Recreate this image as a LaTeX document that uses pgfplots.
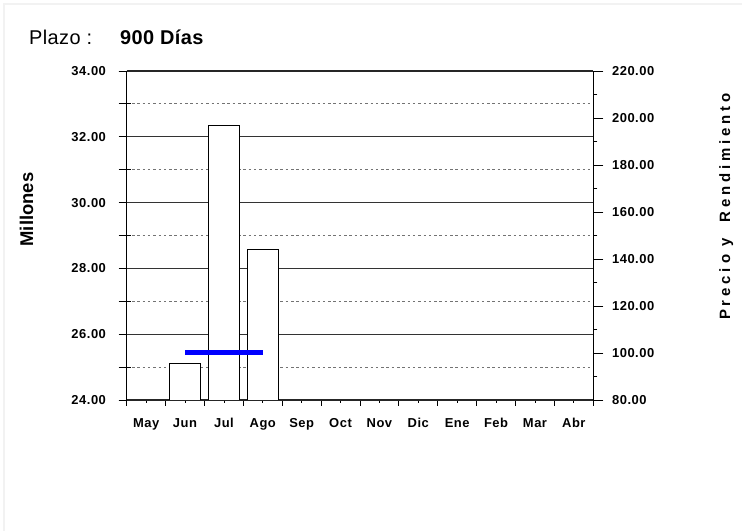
\documentclass[border=0pt]{standalone}
\usepackage{fontspec}
\setmainfont{Liberation Sans}
\usepackage{pgfplots}
\pgfplotsset{compat=1.18}
\begin{document}
\begin{tikzpicture}
\path (0bp,0bp) rectangle (744bp,531bp);
\draw[black!5, line width=1.5bp] (4bp,0bp) -- (4bp,527bp) -- (742bp,527bp);
\begin{axis}[
  at={(126.7bp,131bp)}, anchor=south west,
  scale only axis, width=466.6bp, height=329bp,
  xmin=-0.5, xmax=11.5, ymin=24, ymax=34,
  axis line style={black, line width=0.8bp},
  xtick={0,...,11},
  xticklabels={May,Jun,Jul,Ago,Sep,Oct,Nov,Dic,Ene,Feb,Mar,Abr},
  minor xtick={-0.5,0.5,...,11.5},
  ytick={24,26,...,34},
  yticklabels={24.00,26.00,28.00,30.00,32.00,34.00},
  minor ytick={25,27,...,33},
  xtick pos=bottom, ytick pos=left,
  tick align=outside,
  xtick style={black, line width=0.8bp, /pgfplots/major tick length=3bp, /pgfplots/minor tick length=6bp},
  ytick style={black, line width=0.8bp, /pgfplots/major tick length=8bp, /pgfplots/minor tick length=12bp},
  minor y tick style={xshift=4bp},
  tick label style={font=\fontsize{13}{15}\selectfont\bfseries\addfontfeature{LetterSpace=4}},
  yticklabel style={xshift=-13bp},
  xticklabel style={anchor=base, yshift=-23.5bp},
  ymajorgrids, yminorgrids,
  major grid style={black!80, line width=0.8bp},
  minor grid style={black!55, line width=0.9bp, dash pattern=on 2.5bp off 2.8bp},
  extra y ticks={24,34}, extra y tick labels={},
  extra y tick style={grid=major, major grid style={black!85, line width=1.8bp}},
]
\addplot[ybar, bar width=0.8, fill=white, draw=black, line width=0.8bp]
  coordinates {(1,25.12) (2,32.36) (3,28.59)};
\end{axis}
\begin{axis}[
  at={(126.7bp,131bp)}, anchor=south west,
  scale only axis, width=466.6bp, height=329bp,
  xmin=-0.5, xmax=11.5, ymin=80, ymax=220,
  axis x line=none, axis y line*=right,
  axis line style={black, line width=0.8bp},
  ytick={80,100,...,220},
  yticklabels={80.00,100.00,120.00,140.00,160.00,180.00,200.00,220.00},
  minor ytick={90,110,...,210},
  tick align=outside,
  ytick style={black, line width=0.8bp, /pgfplots/major tick length=10bp, /pgfplots/minor tick length=4bp},
  tick label style={font=\fontsize{13}{15}\selectfont\bfseries\addfontfeature{LetterSpace=4}},
  yticklabel style={xshift=11bp},
]
\addplot[blue, line width=5bp] coordinates {(1,100) (3,100)};
\end{axis}
\node[anchor=base west, inner sep=0, font=\fontsize{20}{24}\selectfont\addfontfeature{LetterSpace=2}] at (29bp,486bp) {Plazo :};
\node[anchor=base west, inner sep=0, font=\fontsize{20}{24}\selectfont\bfseries\addfontfeature{LetterSpace=2}] at (120bp,486bp) {900 Días};
\node[rotate=90, anchor=base, inner sep=0, font=\fontsize{18.5}{22}\selectfont\bfseries] at (33bp,321.5bp) {Millones};
\node[rotate=90, anchor=base, inner sep=0, font=\fontsize{15}{18}\selectfont\bfseries\addfontfeature{LetterSpace=26}] at (730bp,324.5bp) {Precio y\ \ Rendimiento};
\end{tikzpicture}
\end{document}
